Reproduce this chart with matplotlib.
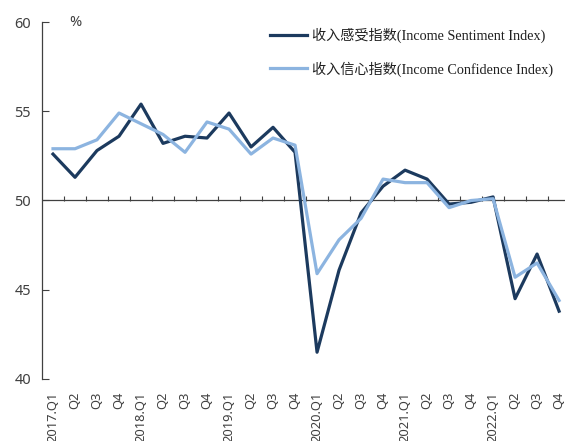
import matplotlib.pyplot as plt

# quarter labels and index values
quarters = ['2017.Q1', 'Q2', 'Q3', 'Q4',
            '2018.Q1', 'Q2', 'Q3', 'Q4',
            '2019.Q1', 'Q2', 'Q3', 'Q4',
            '2020.Q1', 'Q2', 'Q3', 'Q4',
            '2021.Q1', 'Q2', 'Q3', 'Q4',
            '2022.Q1', 'Q2', 'Q3', 'Q4']
sentiment = [52.6, 51.3, 52.8, 53.6, 55.4, 53.2, 53.6, 53.5, 54.9, 53.0, 54.1, 52.7,
             41.5, 46.1, 49.3, 50.8, 51.7, 51.2, 49.8, 49.9, 50.2, 44.5, 47.0, 43.8]
confidence = [52.9, 52.9, 53.4, 54.9, 54.3, 53.7, 52.7, 54.4, 54.0, 52.6, 53.5, 53.1,
              45.9, 47.8, 49.0, 51.2, 51.0, 51.0, 49.6, 50.0, 50.1, 45.7, 46.5, 44.4]

dark = '#1c3a5e'
light = '#8cb4e0'
grey = '#404040'

fig = plt.figure(figsize=(5.65, 4.41), dpi=100)
ax = fig.add_axes([42 / 565, 1 - 379 / 441, 1 - 42 / 565 + 0.009, (379 - 22) / 441])

x = list(range(len(quarters)))
ax.plot(x, sentiment, color=dark, lw=2.3, label='收入感受指数(Income Sentiment Index)', zorder=3)
ax.plot(x, confidence, color=light, lw=2.3, label='收入信心指数(Income Confidence Index)', zorder=3)

ax.set_ylim(40, 60)
ax.set_xlim(-0.5, 23.5)
ax.set_yticks([40, 45, 50, 55, 60])
ax.tick_params(axis='y', direction='in', length=5, width=0.8, colors=grey,
               labelsize=10.5, pad=8)
for lab in ax.get_yticklabels():
    lab.set_fontfamily('Noto Sans')

ax.set_xticks(x)
ax.set_xticklabels(quarters, rotation=90, fontsize=9.3, color=grey, family='Noto Sans')
ax.tick_params(axis='x', length=0, pad=9)

for s in ['top', 'right', 'bottom']:
    ax.spines[s].set_visible(False)
ax.spines['left'].set_color(grey)
ax.spines['left'].set_linewidth(0.9)

# horizontal line at 50 with tick marks between quarters
ax.axhline(50, color=grey, lw=0.9, zorder=2)
sec = ax.secondary_xaxis(0.5)
sec.set_xticks([i + 0.5 for i in range(len(quarters))])
sec.set_xticklabels([])
sec.xaxis.set_ticks_position('bottom')
sec.tick_params(direction='in', length=3.5, width=0.8, colors=grey)
sec.spines['bottom'].set_visible(False)
sec.spines['top'].set_visible(False)

ax.text(0.75, 60, '%', fontsize=10.5, color=grey, va='center', family='Noto Sans')

leg = ax.legend(loc='upper left', bbox_to_anchor=(270 / 565, 1 - 28 / 441),
                bbox_transform=fig.transFigure, frameon=False, handlelength=2.6,
                handletextpad=0.35, labelspacing=1.25, borderpad=0, borderaxespad=0,
                prop={'family': ['Liberation Serif', 'Noto Sans CJK SC'], 'size': 10.2})
for t in leg.get_texts():
    t.set_color('#202020')

fig.savefig('out.png', dpi=100)
